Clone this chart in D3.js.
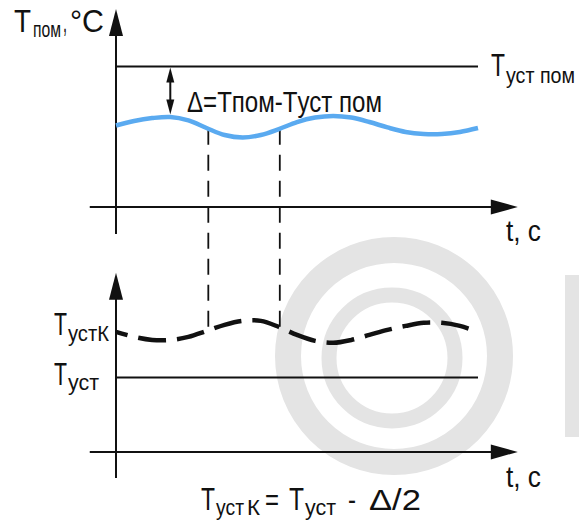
<!DOCTYPE html>
<html>
<head>
<meta charset="utf-8">
<script src="https://cdn.jsdelivr.net/npm/d3@7/dist/d3.min.js"></script>
<style>
  body { margin: 0; background: #fff; }
  svg { display: block; }
  text { font-family: "Liberation Sans", Arial, sans-serif; fill: #111; }
</style>
</head>
<body>
<svg id="chart" width="579" height="523"></svg>
<script>

// time steps (shared by both panels)
const time = [0, 1, 2, 3, 4, 5, 6, 7, 8, 9, 10, 11, 12, 13, 14, 15, 16, 17, 18, 19, 20];

// top panel: room temperature (blue) and room setpoint
const roomTemp = [45.3, 47.8, 49.4, 50, 48.1, 43.9, 40, 38.6, 40, 43.3, 47.2,
                  49.7, 50.6, 49.7, 47.2, 44.2, 41.7, 40.6, 40.6, 41.7, 43.9];
const roomSetpoint = 78;

// bottom panel: corrected setpoint (dashed) and base setpoint
const correctedSetpoint = [66.7, 63.9, 62.2, 62.2, 63.9, 67.2, 70.6, 72.8, 72.8, 69.4, 65,
                           61.7, 60.6, 62.2, 65, 67.8, 70, 71.7, 71.7, 70, 66.7];
const setpoint = 41.4;

// moments linked between the panels, and where the Δ arrow sits
const markTimes = [5.1, 9.05];
const deltaTime = 3;

function drawChart() {
    const svg = d3.select("#chart");

    const x = d3.scaleLinear().domain([0, 20]).range([116, 478]);
    const yTop = d3.scaleLinear().domain([-15, 110]).range([234, 9]);
    const yBot = d3.scaleLinear().domain([-14.5, 99.5]).range([478, 272.8]);
    const axisFrom = -1.45, axisTo = 22.2; // horizontal axes reach, in time units

    // watermark behind everything
    const wm = svg.append("g").attr("fill", "none").attr("stroke", "#e4e4e4");
    wm.append("circle").attr("cx", 394).attr("cy", 356).attr("r", 106).attr("stroke-width", 26);
    wm.append("circle").attr("cx", 392).attr("cy", 358).attr("r", 63).attr("stroke-width", 15);
    svg.append("rect").attr("x", 565).attr("y", 275).attr("width", 20).attr("height", 162).attr("fill", "#e4e4e4");

    // value of a series at a fractional time
    function at(series, t) {
        const i = Math.min(Math.floor(t), series.length - 2);
        return series[i] + (series[i + 1] - series[i]) * (t - i);
    }

    function arrowUp(xp, yp, len, hw) {
        return `M${xp},${yp}L${xp - hw},${yp + len}L${xp + hw},${yp + len}Z`;
    }
    function arrowDown(xp, yp, len, hw) {
        return `M${xp},${yp}L${xp - hw},${yp - len}L${xp + hw},${yp - len}Z`;
    }
    function arrowRight(xp, yp, len, hw) {
        return `M${xp},${yp}L${xp - len},${yp - hw}L${xp - len},${yp + hw}Z`;
    }

    // linking dashed verticals
    markTimes.forEach(t => {
        svg.append("line")
            .attr("x1", x(t)).attr("x2", x(t))
            .attr("y1", yTop(at(roomTemp, t)))
            .attr("y2", yBot(at(correctedSetpoint, t)))
            .attr("stroke", "#111").attr("stroke-width", 1.8)
            .attr("stroke-dasharray", "16,10");
    });

    const axes = svg.append("g").attr("stroke", "#111").attr("stroke-width", 2);

    // top panel axes
    axes.append("line").attr("x1", x(0)).attr("x2", x(0))
        .attr("y1", yTop(-15)).attr("y2", yTop(104));
    axes.append("line").attr("x1", x(axisFrom)).attr("x2", x(axisTo) - 20)
        .attr("y1", yTop(0)).attr("y2", yTop(0));
    // bottom panel axes
    axes.append("line").attr("x1", x(0)).attr("x2", x(0))
        .attr("y1", yBot(-14.5)).attr("y2", yBot(94));
    axes.append("line").attr("x1", x(axisFrom)).attr("x2", x(axisTo) - 20)
        .attr("y1", yBot(0)).attr("y2", yBot(0));

    const heads = svg.append("g").attr("fill", "#111");
    heads.append("path").attr("d", arrowUp(x(0), yTop(110), 27, 7));
    heads.append("path").attr("d", arrowRight(x(axisTo), yTop(0), 27, 7.5));
    heads.append("path").attr("d", arrowUp(x(0), yBot(99.5), 27, 7));
    heads.append("path").attr("d", arrowRight(x(axisTo), yBot(0), 27, 7.5));

    // setpoint lines
    svg.append("line").attr("x1", x(0)).attr("x2", x(20))
        .attr("y1", yTop(roomSetpoint)).attr("y2", yTop(roomSetpoint))
        .attr("stroke", "#111").attr("stroke-width", 2);
    svg.append("line").attr("x1", x(0)).attr("x2", x(20))
        .attr("y1", yBot(setpoint)).attr("y2", yBot(setpoint))
        .attr("stroke", "#111").attr("stroke-width", 2);

    // room temperature curve
    const lineTop = d3.line().x((d, i) => x(time[i])).y(d => yTop(d)).curve(d3.curveCatmullRom);
    svg.append("path").datum(roomTemp)
        .attr("d", lineTop)
        .attr("fill", "none").attr("stroke", "#5aaaf0").attr("stroke-width", 4.5);

    // corrected setpoint curve
    const lineBot = d3.line().x((d, i) => x(time[i])).y(d => yBot(d)).curve(d3.curveCatmullRom);
    svg.append("path").datum(correctedSetpoint)
        .attr("d", lineBot)
        .attr("fill", "none").attr("stroke", "#111").attr("stroke-width", 4.5)
        .attr("stroke-dasharray", "28,11").attr("stroke-dashoffset", 16);

    // Δ double arrow
    const dx = x(deltaTime);
    const yA = yTop(roomSetpoint) + 1, yB = yTop(roomTemp[deltaTime]) - 2.5;
    svg.append("line").attr("x1", dx).attr("x2", dx).attr("y1", yA + 10).attr("y2", yB - 10)
        .attr("stroke", "#111").attr("stroke-width", 2);
    heads.append("path").attr("d", arrowUp(dx, yA, 15, 4));
    heads.append("path").attr("d", arrowDown(dx, yB, 15, 4));

    // one label = one text element, pieces are [x, baseline, string, size, width]
    function label(pieces) {
        const t = svg.append("text");
        pieces.forEach(([px, py, s, size, w]) => {
            t.append("tspan").attr("x", px).attr("y", py)
                .attr("font-size", size)
                .attr("textLength", w).attr("lengthAdjust", "spacingAndGlyphs")
                .text(s);
        });
        return t;
    }

    label([[14, 32, "T", 32, 17], [33, 37, "пом", 22, 28], [63, 32, ",", 32, 4], [70, 32, "°C", 32, 34]]);
    label([[491, 76, "T", 32, 14], [506, 83, "уст пом", 22, 69]]);
    label([[187, 112, "Δ=Tпом-Tуст пом", 30, 195]]);

    label([[506, 241, "t, c", 30, 35]]);
    label([[506, 487, "t, c", 30, 35]]);

    label([[54, 335, "T", 31, 13], [68, 341, "устК", 22, 41]]);
    label([[54, 385, "T", 31, 13], [68, 390, "уст", 22, 31]]);

    label([[201, 510, "T", 31, 14], [216, 515, "уст", 22, 28], [247, 515, "К", 22, 13],
           [265, 510, "=", 30, 14], [289, 510, "T", 31, 15], [305, 515, "уст", 22, 31],
           [348, 510, "-", 30, 8], [369, 510, "Δ/2", 30, 52]]);
}

drawChart();
</script>
</body>
</html>
